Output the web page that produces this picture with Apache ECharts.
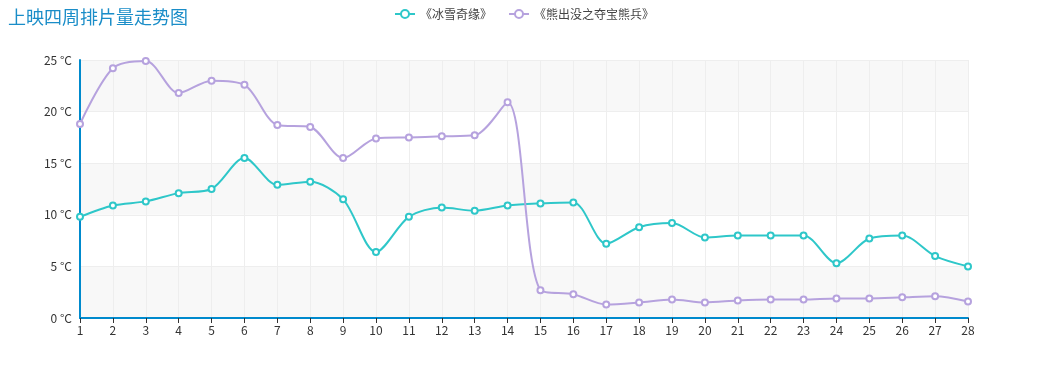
<!DOCTYPE html>
<html><head><meta charset="utf-8">
<script src="https://cdn.jsdelivr.net/npm/echarts@6/dist/echarts.min.js"></script>
<style>html,body{margin:0;padding:0;background:#fff}#c{width:1048px;height:378px}</style>
</head><body><div id="c"></div>
<script>
const categories = ['1','2','3','4','5','6','7','8','9','10','11','12','13','14','15','16','17','18','19','20','21','22','23','24','25','26','27','28'];
const seriesNames = ['《冰雪奇缘》','《熊出没之夺宝熊兵》'];
const frozen = [9.8,10.9,11.3,12.1,12.5,15.5,12.9,13.2,11.5,6.4,9.8,10.7,10.4,10.9,11.1,11.2,7.2,8.8,9.2,7.8,8.0,8.0,8.0,5.3,7.7,8.0,6.0,5.0];
const boonie = [18.8,24.2,24.9,21.8,23.0,22.6,18.7,18.5,15.5,17.4,17.5,17.6,17.7,20.9,2.7,2.3,1.3,1.5,1.8,1.5,1.7,1.8,1.8,1.9,1.9,2.0,2.1,1.6];
const yTicks = {min:0, max:25, interval:5};

const chart = echarts.init(document.getElementById('c'));
const font = "'Noto Sans CJK SC', 'Noto Sans', sans-serif";
chart.setOption({
  animation:false,
  color:['#2ec7c9','#b6a2de'],
  textStyle:{fontFamily:font},
  title:{text:'上映四周排片量走势图', left:3, top:3, textStyle:{color:'#1a8dc8', fontSize:18, fontWeight:'normal', fontFamily:font}},
  legend:{data:seriesNames, top:3, left:'center', itemWidth:20, itemHeight:10, itemGap:16, textStyle:{color:'#444', fontSize:12}},
  grid:{left:80, right:80, top:60, bottom:60, containLabel:false},
  xAxis:{type:'category', data:categories, boundaryGap:false,
    axisLine:{lineStyle:{color:'#008acd', width:2}},
    axisTick:{show:true, lineStyle:{color:'#333'}},
    axisLabel:{color:'#333', fontSize:12, margin:6},
    splitLine:{show:true, lineStyle:{color:'#eee'}}},
  yAxis:{type:'value', min:yTicks.min, max:yTicks.max, interval:yTicks.interval,
    axisLine:{show:true, lineStyle:{color:'#008acd', width:2}},
    axisTick:{show:false},
    axisLabel:{formatter:'{value} °C', color:'#333', fontSize:12, margin:8},
    splitLine:{show:true, lineStyle:{color:'#eee'}},
    splitArea:{show:true, areaStyle:{color:['#f8f8f8','#ffffff']}}},
  series:[
    {name:seriesNames[0], type:'line', smooth:0.3, data:frozen, symbol:'emptyCircle', symbolSize:6, lineStyle:{width:2}, itemStyle:{borderWidth:2}},
    {name:seriesNames[1], type:'line', smooth:0.3, data:boonie, symbol:'emptyCircle', symbolSize:6, lineStyle:{width:2}, itemStyle:{borderWidth:2}}
  ]
});
</script></body></html>
